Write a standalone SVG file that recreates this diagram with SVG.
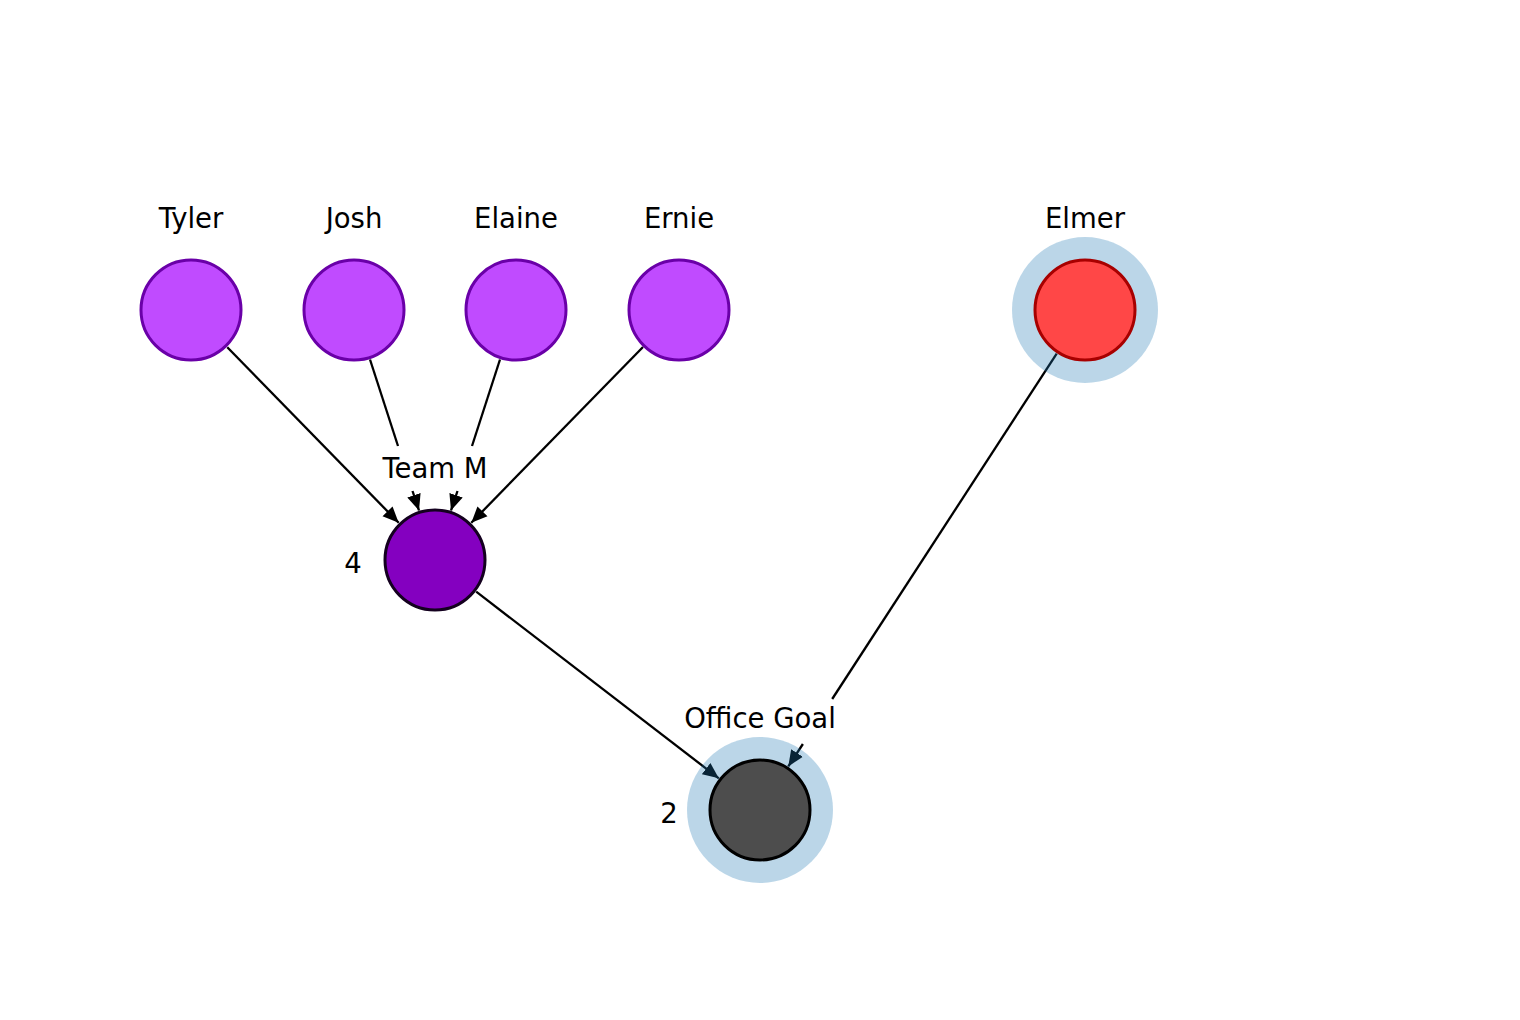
<svg xmlns="http://www.w3.org/2000/svg" width="1520" height="1020" viewBox="0 0 1520 1020">
<style>
text{font-family:"DejaVu Sans","Liberation Sans",sans-serif;font-size:27.5px;fill:#000;text-anchor:middle}
.e{stroke:#000;stroke-width:2.3;fill:none}
.p{fill:#c04bff;stroke:#6a00a8;stroke-width:3}
.halo{fill:#1f77b4;fill-opacity:0.3}
</style>
<defs>
<marker id="ah" markerUnits="userSpaceOnUse" markerWidth="20" markerHeight="16" refX="16" refY="8" orient="auto">
<path d="M0,1 L16,8 L0,15 z" fill="#000"/>
</marker>
</defs>
<rect width="1520" height="1020" fill="#fff"/>
<g id="connectors">
<line class="e" x1="227.3" y1="347.2" x2="398.7" y2="522.8" marker-end="url(#ah)"/>
<line class="e" x1="370" y1="359.5" x2="398" y2="446"/>
<line class="e" x1="412.5" y1="491" x2="419" y2="510.5" marker-end="url(#ah)"/>
<line class="e" x1="500" y1="359.5" x2="472" y2="446"/>
<line class="e" x1="457.5" y1="491" x2="451" y2="510.5" marker-end="url(#ah)"/>
<line class="e" x1="643" y1="347" x2="471.3" y2="522.8" marker-end="url(#ah)"/>
<line class="e" x1="476.2" y1="591.7" x2="718.8" y2="778.3" marker-end="url(#ah)"/>
<line class="e" x1="1056.7" y1="353.6" x2="832.2" y2="699"/>
<line class="e" x1="802.9" y1="744" x2="788.3" y2="766.4" marker-end="url(#ah)"/>
</g>
<g id="node-tyler"><circle class="p" cx="191" cy="310" r="50"/><text x="191" y="228">Tyler</text></g>
<g id="node-josh"><circle class="p" cx="354" cy="310" r="50"/><text x="354" y="228">Josh</text></g>
<g id="node-elaine"><circle class="p" cx="516" cy="310" r="50"/><text x="516" y="228">Elaine</text></g>
<g id="node-ernie"><circle class="p" cx="679" cy="310" r="50"/><text x="679" y="228">Ernie</text></g>
<g id="node-elmer"><circle class="halo" cx="1085" cy="310" r="73"/><circle cx="1085" cy="310" r="50" fill="#ff4747" stroke="#a80000" stroke-width="3"/><text x="1085" y="228">Elmer</text></g>
<g id="node-teamm"><circle cx="435" cy="560" r="50" fill="#8400c0" stroke="#14001f" stroke-width="3"/><text x="435" y="478">Team M</text><text x="353" y="573">4</text></g>
<g id="node-officegoal"><circle class="halo" cx="760" cy="810" r="73"/><circle cx="760" cy="810" r="50" fill="#4d4d4d" stroke="#000" stroke-width="3"/><text x="760" y="728">Office Goal</text><text x="669" y="823">2</text></g>
</svg>
